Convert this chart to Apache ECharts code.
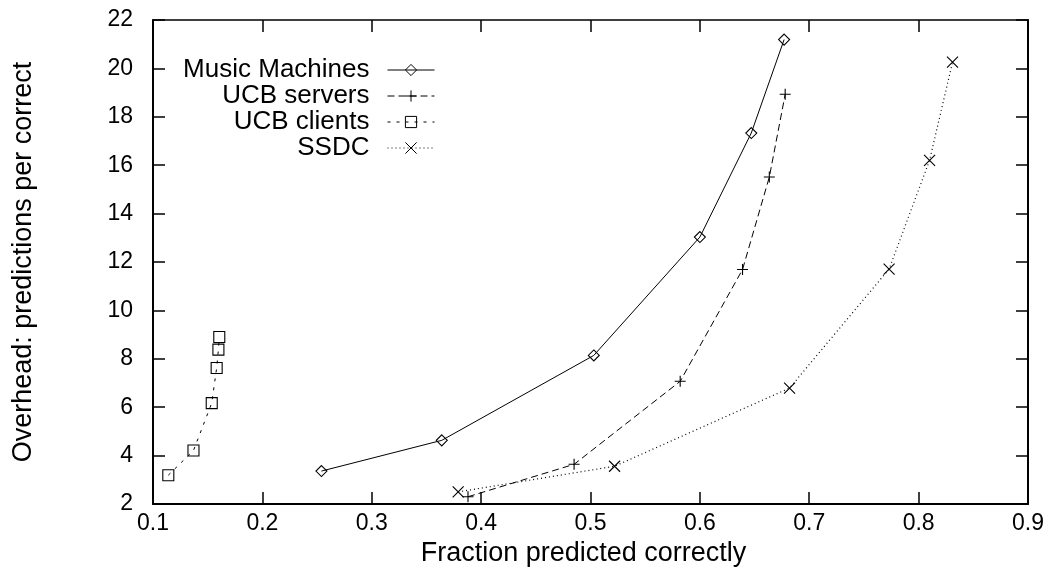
<!DOCTYPE html>
<html>
<head>
<meta charset="utf-8">
<title>Prediction overhead vs. fraction predicted correctly</title>
<script src="https://cdn.jsdelivr.net/npm/echarts@6/dist/echarts.min.js"></script>
<style>
  html, body { margin: 0; padding: 0; background: #fff; }
  #chart { width: 1050px; height: 575px; }
</style>
</head>
<body>
<div id="chart"></div>
<script>
// Series: [fraction predicted correctly, predictions per correct prediction]
const musicMachines = [[0.254, 3.36], [0.364, 4.63], [0.503, 8.14], [0.600, 13.03], [0.647, 17.33], [0.677, 21.19]];
const ucbServers    = [[0.388, 2.30], [0.485, 3.64], [0.582, 7.07], [0.639, 11.69], [0.6635, 15.51], [0.678, 18.93]];
const ucbClients    = [[0.114, 3.19], [0.137, 4.21], [0.1537, 6.17], [0.1582, 7.62], [0.1598, 8.38], [0.1606, 8.90]];
const ssdc          = [[0.379, 2.50], [0.522, 3.56], [0.682, 6.79], [0.773, 11.71], [0.810, 16.20], [0.831, 20.26]];

const seriesNames = ['Music Machines', 'UCB servers', 'UCB clients', 'SSDC'];

const xTitle = 'Fraction predicted correctly';
const yTitle = 'Overhead: predictions per correct';

const FONT = 'Liberation Sans, Arial, Helvetica, sans-serif';

// gnuplot-style point glyphs
const PLUS = 'path://M0,5L10,5M5,0L5,10';
const CROSS = 'path://M0,0L10,10M10,0L0,10';

function axisBase(extra) {
  return Object.assign({
    type: 'value',
    axisLine: { show: true, lineStyle: { color: '#000', width: 2 } },
    axisTick: { show: true, inside: true, length: 12, lineStyle: { color: '#000', width: 1.5 } },
    splitLine: { show: false },
    axisLabel: { color: '#000', fontSize: 23, fontFamily: FONT }
  }, extra);
}

function lineSeries(name, data, symbol, size, dash, width) {
  return {
    name: name,
    type: 'line',
    data: data,
    xAxisIndex: 0,
    yAxisIndex: 0,
    symbol: symbol,
    symbolSize: size,
    showAllSymbol: true,
    lineStyle: { color: '#000', width: width, type: dash },
    itemStyle: { color: 'rgba(0,0,0,0)', borderColor: '#000', borderWidth: 1.1 },
    emphasis: { disabled: true },
    z: 3
  };
}

const chart = echarts.init(document.getElementById('chart'), null, { renderer: 'canvas' });

chart.setOption({
  backgroundColor: '#fff',
  animation: false,
  grid: { left: 153, right: 22, top: 20, bottom: 71, containLabel: false },
  legend: {
    orient: 'vertical',
    align: 'right',
    right: 615,
    top: 57,
    padding: 0,
    itemGap: 0,
    itemWidth: 47,
    itemHeight: 14,
    selectedMode: false,
    data: seriesNames,
    lineStyle: { width: 1 },
    itemStyle: { borderWidth: 1 },
    textStyle: { color: '#000', fontSize: 26, fontFamily: FONT, padding: [0, 13, 0, 0] }
  },
  xAxis: [
    axisBase({
      position: 'bottom',
      min: 0.1, max: 0.9, interval: 0.1,
      name: xTitle,
      nameLocation: 'middle',
      nameGap: 35,
      nameTextStyle: { color: '#000', fontSize: 27, fontFamily: FONT, padding: [0, 14, 0, 0] },
      axisLabel: { color: '#000', fontSize: 23, fontFamily: FONT, margin: 8 }
    }),
    axisBase({
      position: 'top',
      min: 0.1, max: 0.9, interval: 0.1,
      axisLine: { show: true, lineStyle: { color: '#000', width: 1.5 } },
      axisLabel: { show: false }
    })
  ],
  yAxis: [
    axisBase({
      position: 'left',
      min: 2, max: 22, interval: 2,
      name: yTitle,
      nameLocation: 'middle',
      nameGap: 116,
      nameTextStyle: { color: '#000', fontSize: 27, fontFamily: FONT },
      axisLabel: { color: '#000', fontSize: 23, fontFamily: FONT, margin: 20 }
    }),
    axisBase({
      position: 'right',
      min: 2, max: 22, interval: 2,
      axisLabel: { show: false }
    })
  ],
  series: [
    lineSeries(seriesNames[0], musicMachines, 'diamond', 11, 'solid', 1),
    lineSeries(seriesNames[1], ucbServers, PLUS, 11, [7, 4], 1),
    lineSeries(seriesNames[2], ucbClients, 'rect', 11, [3, 6], 1),
    lineSeries(seriesNames[3], ssdc, CROSS, 11, [1, 3], 1.2)
  ]
});
</script>
</body>
</html>
